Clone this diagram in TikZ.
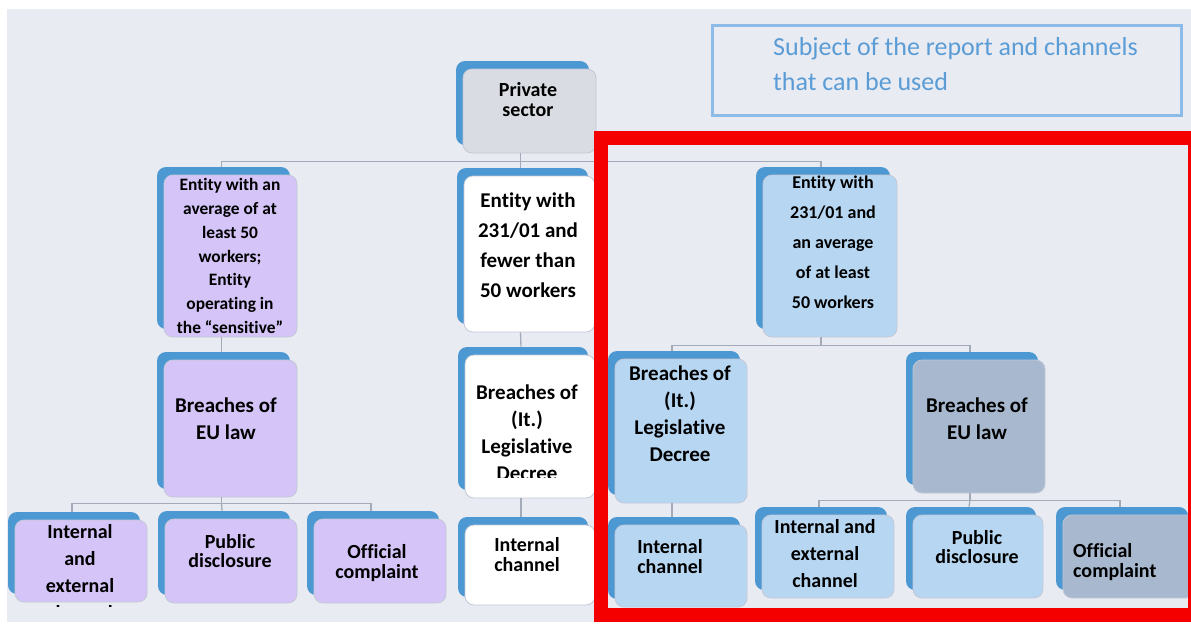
\documentclass[tikz,border=0pt]{standalone}
\usepackage{fontspec}
\setmainfont{Carlito}[Ligatures=NoCommon]
\usetikzlibrary{shadows}

\definecolor{pagebg}{HTML}{E9EBF3}
\definecolor{tabblue}{HTML}{4C98D2}
\definecolor{purp}{HTML}{D5C4F7}
\definecolor{lblue}{HTML}{B6D6F2}
\definecolor{gblue}{HTML}{A7B8CF}
\definecolor{psgray}{HTML}{D9DCE3}
\definecolor{boxedge}{HTML}{C3C8D6}
\definecolor{connline}{HTML}{A4ABB8}
\definecolor{titleblue}{HTML}{5A9CD5}
\definecolor{titleedge}{HTML}{8BBBE6}
\definecolor{markred}{HTML}{F50000}

\begin{document}
\begin{tikzpicture}[x=1pt,y=-1pt,
  box/.style={rectangle, rounded corners=9pt, draw=boxedge, line width=0.8pt, inner sep=0pt,
    general shadow={fill=tabblue, shadow xshift=-7pt, shadow yshift=8pt}},
  conn/.style={draw=connline, line width=1.3pt},
  lbl/.style={align=center, inner sep=0pt, text=black},
  fA/.style={font=\fontsize{21}{27}\selectfont\bfseries},
  fB/.style={font=\fontsize{20}{20}\selectfont\bfseries},
]
\useasboundingbox (0,0) rectangle (1191,625);
\fill[white] (0,0) rectangle (1191,625);
\fill[pagebg] (7,9) rectangle (1191,622);

% heading box
\node[draw=titleedge, line width=3pt, minimum width=469pt, minimum height=90pt, inner sep=0pt] (tbox) at (946.5,70) {};
\node[anchor=west, align=left, inner sep=0pt, text=titleblue,
      font=\fontsize{26}{35}\selectfont] (ttl) at (773,64) {Subject of the report and channels\\that can be used};

% boxes
\node[box, fill=psgray, minimum width=133pt, minimum height=84pt]  (ps) at (529.5,111) {};
\node[box, fill=purp,   minimum width=133pt, minimum height=162pt] (e1) at (230.5,256) {};
\node[box, fill=white,  minimum width=131pt, minimum height=156pt] (e2) at (529.5,254) {};
\node[box, fill=lblue,  minimum width=134pt, minimum height=162pt] (e3) at (830,256) {};
\node[box, fill=purp,   minimum width=133pt, minimum height=137pt] (l1) at (230.5,428.5) {};
\node[box, fill=white,  minimum width=130pt, minimum height=143pt] (l2) at (530,426.5) {};
\node[box, fill=lblue,  minimum width=132pt, minimum height=144pt] (l3) at (681,431) {};
\node[box, fill=gblue,  minimum width=132pt, minimum height=133pt] (l4) at (979,426.5) {};
\node[box, fill=purp,   minimum width=132pt, minimum height=82pt]  (c1) at (81,561) {};
\node[box, fill=purp,   minimum width=132pt, minimum height=84pt]  (c2) at (231,561) {};
\node[box, fill=purp,   minimum width=132pt, minimum height=84pt]  (c3) at (380,561) {};
\node[box, fill=white,  minimum width=130pt, minimum height=80pt]  (c4) at (530,565) {};
\node[box, fill=lblue,  minimum width=132pt, minimum height=82pt]  (c5) at (681,566) {};
\node[box, fill=lblue,  minimum width=132pt, minimum height=83pt]  (c6) at (828,556.5) {};
\node[box, fill=lblue,  minimum width=130pt, minimum height=83pt]  (c7) at (978,556.5) {};
\node[box, fill=gblue,  minimum width=132pt, minimum height=83pt]  (c8) at (1129,556.5) {};

% labels
\node[lbl, font=\fontsize{20}{20}\selectfont\bfseries] (tps) at (528,100) {Private\\sector};
\node[lbl, font=\fontsize{17.4}{23.7}\selectfont\bfseries] (te1) at (230,256)
  {Entity with an\\average of at\\least 50\\workers;\\Entity\\operating in\\the “sensitive”};
\node[lbl, font=\fontsize{21}{30}\selectfont\bfseries] (te2) at (528,245)
  {Entity with\\231/01 and\\fewer than\\50 workers};
\node[lbl, font=\fontsize{18}{30}\selectfont\bfseries] (te3) at (833,242)
  {Entity with\\231/01 and\\an average\\of at least\\50 workers};
\node[lbl, fA] (tl1) at (226,418.5) {Breaches of\\EU law};
\begin{scope}
  \clip (440,340) rectangle (600,477);
  \node[lbl, fA] (tl2) at (527,433) {Breaches of\\(It.)\\Legislative\\Decree};
\end{scope}
\node[lbl, fA] (tl3) at (680,414) {Breaches of\\(It.)\\Legislative\\Decree};
\node[lbl, fA] (tl4) at (977,418.5) {Breaches of\\EU law};
\begin{scope}
  \clip (0,505) rectangle (160,606);
  \node[lbl, font=\fontsize{20}{26.7}\selectfont\bfseries] (tc1) at (80,572) {Internal\\and\\external\\channel};
\end{scope}
\node[lbl, font=\fontsize{20}{19}\selectfont\bfseries] (tc2) at (230,551) {Public\\disclosure};
\node[lbl, fB] (tc3) at (377,563) {Official\\complaint};
\node[lbl, fB] (tc4) at (527,555) {Internal\\channel};
\node[lbl, fB] (tc5) at (670,556.5) {Internal\\channel};
\node[lbl, font=\fontsize{20}{27}\selectfont\bfseries] (tc6) at (825,554) {Internal and\\external\\channel};
\node[lbl, font=\fontsize{20}{19}\selectfont\bfseries] (tc7) at (977,547.5) {Public\\disclosure};
\node[lbl, fB, align=left, anchor=west] (tc8) at (1073,562) {Official\\complaint};

% tree connectors (they meet each box at the centre of its blue tab)
\coordinate (j0) at ([shift={(-9pt,-8pt)}]ps.south);
\draw[conn] ([xshift=-9pt]ps.south) -- ([shift={(-9pt,8pt)}]e2.north);
\draw[conn] ([shift={(-9pt,8pt)}]e1.north) |- (j0) -| ([shift={(-9pt,8pt)}]e3.north);

\draw[conn] ([xshift=-9pt]e1.south) -- ([shift={(-9pt,8pt)}]l1.north);
\draw[conn] ([xshift=-9pt]e2.south) -- ([shift={(-9pt,8pt)}]l2.north);

\coordinate (j1) at ([shift={(-9pt,-8pt)}]e3.south);
\draw[conn] ([xshift=-9pt]e3.south) -- (j1);
\draw[conn] ([shift={(-9pt,8pt)}]l3.north) |- (j1) -| ([shift={(-9pt,8pt)}]l4.north);

\coordinate (j2) at ([shift={(-9pt,-6pt)}]l1.south);
\draw[conn] ([xshift=-9pt]l1.south) -- (j2);
\draw[conn] ([shift={(-9pt,8pt)}]c1.north) |- (j2) -| ([shift={(-9pt,8pt)}]c3.north);
\draw[conn] (j2) -- ([shift={(-9pt,8pt)}]c2.north);

\draw[conn] ([xshift=-9pt]l2.south) -- ([shift={(-9pt,8pt)}]c4.north);
\draw[conn] ([xshift=-9pt]l3.south) -- ([shift={(-9pt,8pt)}]c5.north);

\coordinate (j3) at ([shift={(-9pt,-7pt)}]l4.south);
\draw[conn] ([xshift=-9pt]l4.south) -- (j3);
\draw[conn] ([shift={(-9pt,8pt)}]c6.north) |- (j3) -| ([shift={(-9pt,8pt)}]c8.north);
\draw[conn] (j3) -- ([shift={(-9pt,8pt)}]c7.north);

% highlight frame
\draw[markred, line width=14pt] (601,138) rectangle (1195,614.5);
\end{tikzpicture}
\end{document}
